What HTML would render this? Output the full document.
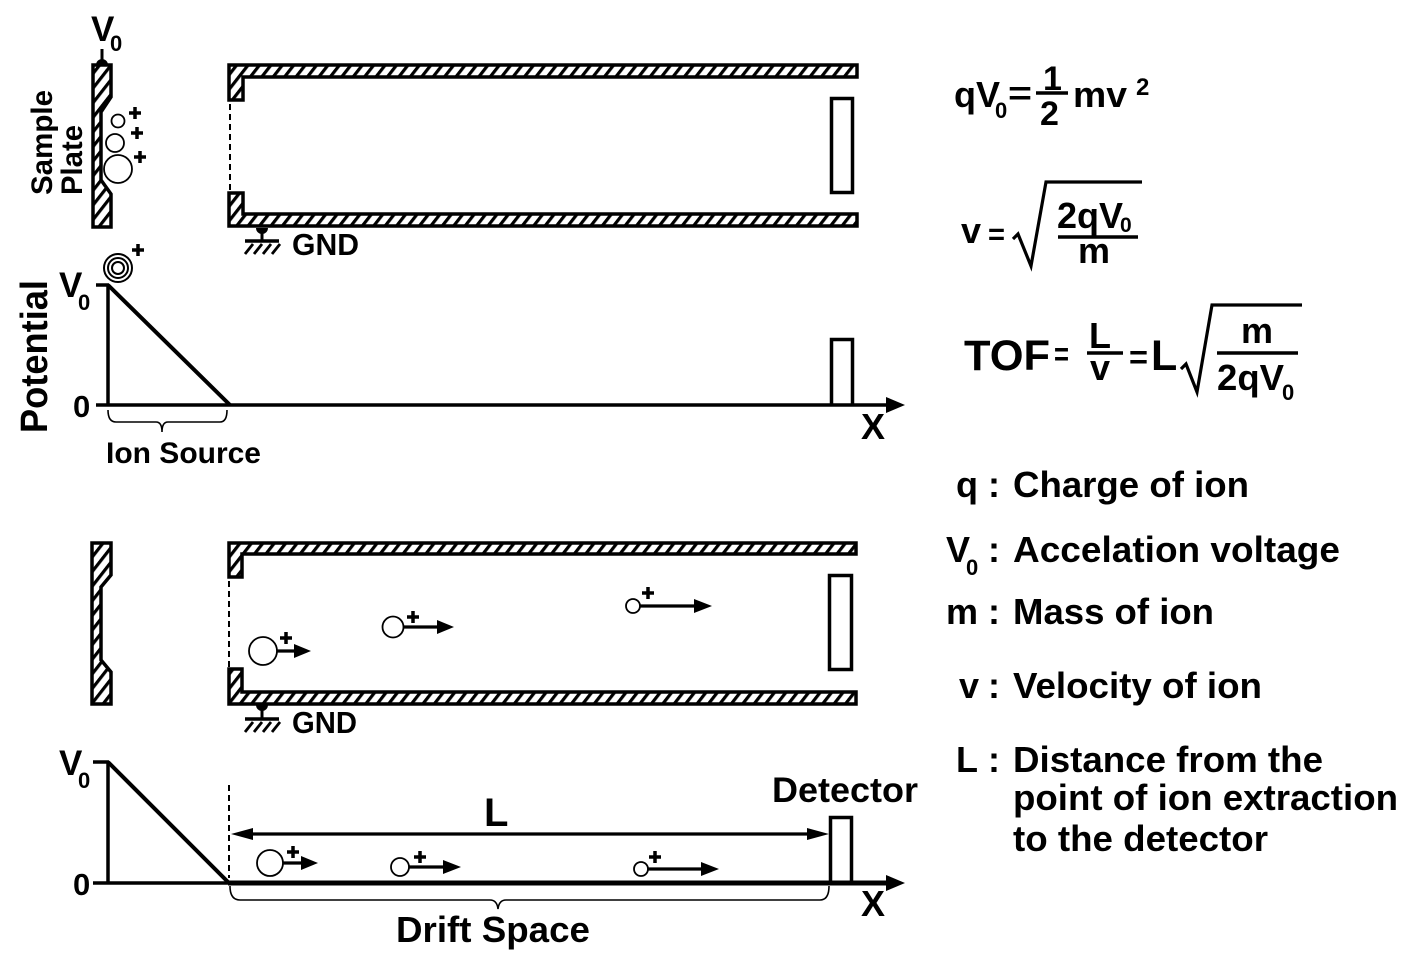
<!DOCTYPE html>
<html>
<head>
<meta charset="utf-8">
<style>
html,body{margin:0;padding:0;background:#fff;}
svg{display:block;}
text{font-family:"Liberation Sans",Arial,sans-serif;font-weight:bold;fill:#000;}
</style>
</head>
<body>
<svg width="1416" height="961" viewBox="0 0 1416 961" xmlns="http://www.w3.org/2000/svg">
<defs>
  <pattern id="h" width="9" height="9" patternUnits="userSpaceOnUse" patternTransform="rotate(38)">
    <rect x="0" y="0" width="3.2" height="9" fill="#000"/>
  </pattern>
</defs>
<rect width="1416" height="961" fill="#fff"/>

<!-- ============ TOP SECTION ============ -->
<text x="91" y="41" font-size="35">V</text>
<text x="110" y="51" font-size="22">0</text>
<line x1="102" y1="49" x2="102" y2="62" stroke="#000" stroke-width="3"/>
<path d="M96,65 A6,6 0 0 1 108,65 Z" fill="#000"/>

<polygon points="93,65 111,65 111,97 101,112 101,180 111,194 111,227 93,227" fill="url(#h)" stroke="#000" stroke-width="3.5" stroke-linejoin="miter"/>

<text transform="translate(52,195) rotate(-90)" font-size="30" textLength="105" lengthAdjust="spacingAndGlyphs">Sample</text>
<text transform="translate(82,195) rotate(-90)" font-size="30" textLength="70" lengthAdjust="spacingAndGlyphs">Plate</text>

<g fill="none" stroke="#000" stroke-width="1.8">
  <circle cx="118" cy="121" r="6.5"/>
  <circle cx="115" cy="143" r="9"/>
  <circle cx="118" cy="169" r="14"/>
</g>
<g stroke="#000" stroke-width="3.5">
  <line x1="129" y1="113" x2="141" y2="113"/><line x1="135" y1="107" x2="135" y2="119"/>
  <line x1="131" y1="133" x2="143" y2="133"/><line x1="137" y1="127" x2="137" y2="139"/>
  <line x1="134" y1="157" x2="146" y2="157"/><line x1="140" y1="151" x2="140" y2="163"/>
</g>

<polygon points="229,65 857,65 857,77 243,77 243,100 229,100" fill="url(#h)" stroke="#000" stroke-width="3.5"/>
<polygon points="229,193 243,193 243,214 857,214 857,226 229,226" fill="url(#h)" stroke="#000" stroke-width="3.5"/>
<line x1="230" y1="104" x2="230" y2="190" stroke="#000" stroke-width="2" stroke-dasharray="6,4"/>
<rect x="831.5" y="98.5" width="21" height="94" fill="none" stroke="#000" stroke-width="3.5"/>

<path d="M256,228 A6,6 0 0 0 268,228 Z" fill="#000"/>
<line x1="262" y1="228" x2="262" y2="241" stroke="#000" stroke-width="3"/>
<line x1="245" y1="241" x2="279" y2="241" stroke="#000" stroke-width="3.5"/>
<g stroke="#000" stroke-width="2.8">
  <line x1="245" y1="254" x2="253" y2="244"/>
  <line x1="254" y1="254" x2="262" y2="244"/>
  <line x1="263" y1="254" x2="271" y2="244"/>
  <line x1="272" y1="254" x2="280" y2="244"/>
</g>
<text x="292" y="255" font-size="31" textLength="67" lengthAdjust="spacingAndGlyphs">GND</text>

<text transform="translate(47,433) rotate(-90)" font-size="38" textLength="153" lengthAdjust="spacingAndGlyphs">Potential</text>
<text x="59" y="297" font-size="35">V</text>
<text x="78" y="310" font-size="22">0</text>
<text x="73" y="417" font-size="31">0</text>
<g stroke="#000" stroke-width="3.5" fill="none">
  <line x1="96" y1="285" x2="109" y2="285"/>
  <line x1="108" y1="285" x2="108" y2="406"/>
  <line x1="96" y1="405" x2="890" y2="405"/>
  <line x1="108" y1="285" x2="230" y2="405" stroke-width="4"/>
  <polyline points="831.5,405 831.5,339.5 852.5,339.5 852.5,405"/>
</g>
<polygon points="886,397 905,405 886,413" fill="#000"/>
<text x="861" y="439" font-size="36">X</text>

<g fill="none" stroke="#000" stroke-width="2">
  <circle cx="118" cy="268" r="14"/>
  <circle cx="118" cy="268" r="10"/>
  <circle cx="118" cy="268" r="6"/>
</g>
<g stroke="#000" stroke-width="3.5">
  <line x1="132" y1="250" x2="144" y2="250"/><line x1="138" y1="244" x2="138" y2="256"/>
</g>

<path d="M108,410 Q108,422 116,422 L156,422 Q162,422 162,432 Q162,422 168,422 L220,422 Q227,422 227,410" fill="none" stroke="#000" stroke-width="1.6"/>
<text x="106" y="463" font-size="30" textLength="155" lengthAdjust="spacingAndGlyphs">Ion Source</text>

<!-- ============ EQUATIONS ============ -->
<text x="954" y="107" font-size="36" textLength="46" lengthAdjust="spacingAndGlyphs">qV</text>
<text x="995" y="118" font-size="22">0</text>
<text x="1008" y="104" font-size="32" textLength="24" lengthAdjust="spacingAndGlyphs">=</text>
<text x="1043" y="90" font-size="34">1</text>
<line x1="1036" y1="93" x2="1068" y2="93" stroke="#000" stroke-width="3.5"/>
<text x="1040" y="125" font-size="34">2</text>
<text x="1073" y="107" font-size="36" textLength="54" lengthAdjust="spacingAndGlyphs">mv</text>
<text x="1136" y="95" font-size="24">2</text>

<text x="961" y="243" font-size="36">v</text>
<text x="988" y="244" font-size="30" textLength="17" lengthAdjust="spacingAndGlyphs">=</text>
<polyline points="1013,239 1018,234 1031,266 1046,182 1142,182" fill="none" stroke="#000" stroke-width="3.2" stroke-linejoin="miter"/>
<text x="1057" y="228" font-size="36" textLength="66" lengthAdjust="spacingAndGlyphs">2qV</text>
<text x="1120" y="232" font-size="21">0</text>
<line x1="1058" y1="237" x2="1138" y2="237" stroke="#000" stroke-width="3.5"/>
<text x="1078" y="263" font-size="36" textLength="32" lengthAdjust="spacingAndGlyphs">m</text>

<text x="964" y="370" font-size="43" textLength="86" lengthAdjust="spacingAndGlyphs">TOF</text>
<text x="1054" y="365" font-size="32" textLength="15" lengthAdjust="spacingAndGlyphs">=</text>
<text x="1089" y="348" font-size="36">L</text>
<line x1="1087" y1="353" x2="1123" y2="353" stroke="#000" stroke-width="3.5"/>
<text x="1090" y="380" font-size="36">v</text>
<text x="1129" y="368" font-size="32" textLength="19" lengthAdjust="spacingAndGlyphs">=</text>
<text x="1151" y="370" font-size="43">L</text>
<polyline points="1181,369 1186,364 1197,392 1212,305 1302,305" fill="none" stroke="#000" stroke-width="3.2" stroke-linejoin="miter"/>
<text x="1241" y="343" font-size="36" textLength="32" lengthAdjust="spacingAndGlyphs">m</text>
<line x1="1217" y1="353" x2="1298" y2="353" stroke="#000" stroke-width="3.5"/>
<text x="1217" y="390" font-size="36" textLength="67" lengthAdjust="spacingAndGlyphs">2qV</text>
<text x="1282" y="400" font-size="22">0</text>

<!-- ============ LEGEND ============ -->
<text x="956" y="497" font-size="36">q</text>
<text x="988" y="497" font-size="36">:</text>
<text x="1013" y="497" font-size="36" textLength="236" lengthAdjust="spacingAndGlyphs">Charge of ion</text>

<text x="946" y="562" font-size="36">V</text>
<text x="966" y="575" font-size="22">0</text>
<text x="988" y="562" font-size="36">:</text>
<text x="1013" y="562" font-size="36" textLength="327" lengthAdjust="spacingAndGlyphs">Accelation voltage</text>

<text x="946" y="624" font-size="36">m</text>
<text x="988" y="624" font-size="36">:</text>
<text x="1013" y="624" font-size="36" textLength="201" lengthAdjust="spacingAndGlyphs">Mass of ion</text>

<text x="959" y="698" font-size="36">v</text>
<text x="988" y="698" font-size="36">:</text>
<text x="1013" y="698" font-size="36" textLength="249" lengthAdjust="spacingAndGlyphs">Velocity of ion</text>

<text x="956" y="772" font-size="36">L</text>
<text x="988" y="772" font-size="36">:</text>
<text x="1013" y="772" font-size="36" textLength="310" lengthAdjust="spacingAndGlyphs">Distance from the</text>
<text x="1013" y="810" font-size="36" textLength="385" lengthAdjust="spacingAndGlyphs">point of ion extraction</text>
<text x="1013" y="851" font-size="36" textLength="255" lengthAdjust="spacingAndGlyphs">to the detector</text>

<!-- ============ BOTTOM SECTION ============ -->
<polygon points="92,543 111,543 111,575 101,587 101,660 111,672 111,704 92,704" fill="url(#h)" stroke="#000" stroke-width="3.5"/>

<polygon points="229,543 856,543 856,554 242,554 242,577 229,577" fill="url(#h)" stroke="#000" stroke-width="3.5"/>
<polygon points="229,669 242,669 242,692 856,692 856,704 229,704" fill="url(#h)" stroke="#000" stroke-width="3.5"/>
<line x1="229" y1="581" x2="229" y2="667" stroke="#000" stroke-width="2" stroke-dasharray="6,4"/>
<rect x="829.5" y="575.5" width="22" height="94" fill="none" stroke="#000" stroke-width="3.5"/>

<path d="M256,705 A6,6 0 0 0 268,705 Z" fill="#000"/>
<line x1="262" y1="705" x2="262" y2="719" stroke="#000" stroke-width="3"/>
<line x1="245" y1="719" x2="279" y2="719" stroke="#000" stroke-width="3.5"/>
<g stroke="#000" stroke-width="2.8">
  <line x1="245" y1="732" x2="253" y2="722"/>
  <line x1="254" y1="732" x2="262" y2="722"/>
  <line x1="263" y1="732" x2="271" y2="722"/>
  <line x1="272" y1="732" x2="280" y2="722"/>
</g>
<text x="292" y="733" font-size="31" textLength="65" lengthAdjust="spacingAndGlyphs">GND</text>

<g fill="none" stroke="#000" stroke-width="1.8">
  <circle cx="263" cy="651" r="14"/>
  <circle cx="393" cy="627" r="10.5"/>
  <circle cx="633" cy="606" r="7"/>
</g>
<g stroke="#000" stroke-width="3.2">
  <line x1="277" y1="651" x2="298" y2="651"/>
  <line x1="403" y1="627" x2="440" y2="627"/>
  <line x1="640" y1="606" x2="697" y2="606"/>
</g>
<g fill="#000">
  <polygon points="294,644 311,651 294,658"/>
  <polygon points="437,620 454,627 437,634"/>
  <polygon points="694,599 712,606 694,613"/>
</g>
<g stroke="#000" stroke-width="3.5">
  <line x1="280" y1="638" x2="292" y2="638"/><line x1="286" y1="632" x2="286" y2="644"/>
  <line x1="407" y1="617" x2="419" y2="617"/><line x1="413" y1="611" x2="413" y2="623"/>
  <line x1="642" y1="593" x2="654" y2="593"/><line x1="648" y1="587" x2="648" y2="599"/>
</g>

<text x="59" y="775" font-size="35">V</text>
<text x="78" y="788" font-size="22">0</text>
<text x="73" y="895" font-size="31">0</text>
<g stroke="#000" stroke-width="3.5" fill="none">
  <line x1="93" y1="762" x2="109" y2="762"/>
  <line x1="108" y1="762" x2="108" y2="884"/>
  <line x1="93" y1="883" x2="229" y2="883"/>
  <line x1="228" y1="883" x2="890" y2="883" stroke-width="5"/>
  <line x1="108" y1="762" x2="229" y2="883" stroke-width="4"/>
  <polyline points="830.5,883 830.5,817.5 851.5,817.5 851.5,883"/>
</g>
<polygon points="886,875 905,883 886,891" fill="#000"/>
<text x="861" y="916" font-size="36">X</text>
<line x1="229" y1="785" x2="229" y2="878" stroke="#000" stroke-width="2" stroke-dasharray="6,4"/>

<line x1="245" y1="834" x2="815" y2="834" stroke="#000" stroke-width="3.2"/>
<polygon points="231,834 253,828 253,840" fill="#000"/>
<polygon points="829,834 807,828 807,840" fill="#000"/>
<text x="484" y="826" font-size="40">L</text>
<text x="772" y="802" font-size="35" textLength="146" lengthAdjust="spacingAndGlyphs">Detector</text>

<g fill="none" stroke="#000" stroke-width="1.8">
  <circle cx="270" cy="863" r="13"/>
  <circle cx="400" cy="867" r="9"/>
  <circle cx="641" cy="869" r="7"/>
</g>
<g stroke="#000" stroke-width="3.2">
  <line x1="283" y1="863" x2="305" y2="863"/>
  <line x1="409" y1="867" x2="447" y2="867"/>
  <line x1="648" y1="869" x2="705" y2="869"/>
</g>
<g fill="#000">
  <polygon points="301,856 318,863 301,870"/>
  <polygon points="443,860 461,867 443,874"/>
  <polygon points="701,862 719,869 701,876"/>
</g>
<g stroke="#000" stroke-width="3.5">
  <line x1="287" y1="852" x2="299" y2="852"/><line x1="293" y1="846" x2="293" y2="858"/>
  <line x1="414" y1="857" x2="426" y2="857"/><line x1="420" y1="851" x2="420" y2="863"/>
  <line x1="649" y1="857" x2="661" y2="857"/><line x1="655" y1="851" x2="655" y2="863"/>
</g>

<path d="M230,886 Q230,900 240,900 L490,900 Q497,900 498,909 Q499,900 506,900 L820,900 Q829,900 829,886" fill="none" stroke="#000" stroke-width="1.6"/>
<text x="396" y="942" font-size="36" textLength="194" lengthAdjust="spacingAndGlyphs">Drift Space</text>
</svg>
</body>
</html>
